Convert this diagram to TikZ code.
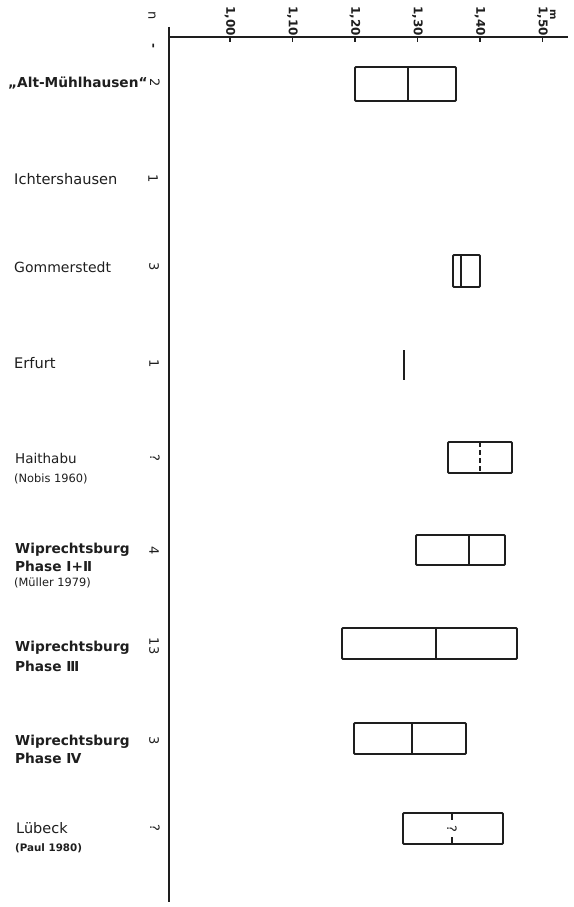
\documentclass[tikz,border=0pt]{standalone}
\usepackage{fontspec}
\setmainfont{DejaVu Sans}
\definecolor{ink}{RGB}{30,30,30}
\begin{document}
\begin{tikzpicture}[x=1pt,y=-1pt,
  axisline/.style={draw=ink,line width=1.3pt},
  boxline/.style={draw=ink,line width=1.8pt,rounded corners=1pt},
  medline/.style={draw=ink,line width=1.8pt},
  dmedline/.style={draw=ink,line width=1.8pt,dash pattern=on 5pt off 3pt},
  site/.style={anchor=west,inner sep=0pt,text=ink,font=\fontsize{14.6}{16}\selectfont},
  sitebold/.style={site,font=\fontsize{13.7}{16}\bfseries\selectfont},
  ref/.style={anchor=west,inner sep=0pt,text=ink,font=\fontsize{11.4}{12}\selectfont},
  nlab/.style={rotate=-90,inner sep=0pt,text=ink,font=\fontsize{13}{14}\selectfont},
  ticklab/.style={rotate=-90,inner sep=0pt,text=ink,font=\fontsize{12}{13}\bfseries\selectfont}]
\useasboundingbox (0,0) rectangle (573,907);
\fill[white] (0,0) rectangle (573,907);

% axes
\coordinate (origin) at (169,37);
\coordinate (ytop) at (169,27);
\coordinate (ybot) at (169,902);
\coordinate (xend) at (568,37);
\draw[axisline] (ytop) -- (ybot);
\draw[axisline] (origin) -- (xend);

% ticks and labels
\foreach \x/\t [count=\i] in {230/{1,00},292.5/{1,10},355/{1,20},417.5/{1,30},480/{1,40},542.5/{1,50}}{
  \coordinate (tk\i) at (\x,37);
  \draw[draw=ink,line width=1.2pt] (tk\i) -- ++(0,5);
  \node[ticklab] (tl\i) at (\x,21) {\t};
}
\node[nlab,font=\fontsize{10}{11}\bfseries\selectfont] (unit) at (553,15) {m};
\node[nlab] (nhead) at (152,16) {n};
\node[nlab,font=\fontsize{12}{13}\bfseries\selectfont] (ndash) at (152,46) {-};

% site labels
\node[sitebold] (s1) at (8,83) {„Alt-Mühlhausen“};
\node[site] (s2) at (14,179) {Ichtershausen};
\node[site,font=\fontsize{14}{16}\selectfont] (s3) at (14,267) {Gommerstedt};
\node[site] (s4) at (14,363) {Erfurt};
\node[site,font=\fontsize{13.5}{16}\selectfont] (s5) at (15,458) {Haithabu};
\node[ref] (s5r) at (14,479) {(Nobis 1960)};
\node[sitebold] (s6) at (15,550) {Wiprechtsburg};
\node[sitebold] (s6b) at (15,566) {Phase I+Ⅱ};
\node[ref] (s6r) at (14,583) {(Müller 1979)};
\node[sitebold] (s7) at (15,648) {Wiprechtsburg};
\node[sitebold] (s7b) at (15,666) {Phase Ⅲ};
\node[sitebold] (s8) at (15,742) {Wiprechtsburg};
\node[sitebold] (s8b) at (15,758) {Phase Ⅳ};
\node[site,font=\fontsize{14.5}{16}\selectfont] (s9) at (16,828) {Lübeck};
\node[ref,font=\fontsize{10.3}{12}\bfseries\selectfont] (s9r) at (15,848) {(Paul 1980)};

% n values
\node[nlab] (n1) at (155,83) {2};
\node[nlab] (n2) at (153,179) {1};
\node[nlab] (n3) at (154,267) {3};
\node[nlab] (n4) at (154,364) {1};
\node[nlab] (n5) at (155,458) {?};
\node[nlab] (n6) at (154,551) {4};
\node[nlab] (n7) at (154,646) {13};
\node[nlab] (n8) at (154,741) {3};
\node[nlab] (n9) at (155,828) {?};

% boxes
\draw[boxline] (355,67) rectangle (456,101);
\draw[medline] (408,67) -- (408,101);

\draw[boxline] (453,255) rectangle (480,287);
\draw[medline] (461,255) -- (461,287);

\draw[medline] (404,350) -- (404,380);

\draw[boxline] (448,442) rectangle (512,473);
\draw[dmedline] (480,442) -- (480,473);

\draw[boxline] (416,535) rectangle (505,565);
\draw[medline] (469,535) -- (469,565);

\draw[boxline] (342,628) rectangle (517,659);
\draw[medline] (436,628) -- (436,659);

\draw[boxline] (354,723) rectangle (466,754);
\draw[medline] (412,723) -- (412,754);

\draw[boxline] (403,813) rectangle (503,844);
\node[nlab,font=\fontsize{13}{14}\selectfont] (q9) at (452,828.5) {?};
\draw[medline] (452,813) -- (452,820);
\draw[medline] (452,837) -- (452,844);
\end{tikzpicture}
\end{document}
